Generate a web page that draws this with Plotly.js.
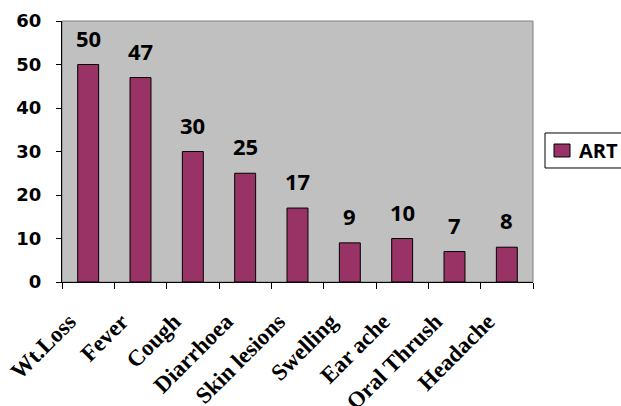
<!DOCTYPE html>
<html><head><meta charset="utf-8">
<script src="https://cdn.plot.ly/plotly-3.0.1.min.js"></script>
<style>html,body{margin:0;padding:0;background:#fff}#c{width:621px;height:406px}</style>
</head><body><div id="c"></div>
<script>
const categories = ["Wt.Loss","Fever","Cough","Diarrhoea","Skin lesions","Swelling","Ear ache","Oral Thrush","Headache"];
const artValues = [50,47,30,25,17,9,10,7,8];
const seriesName = "ART";
const yTicks = [0,10,20,30,40,50,60];
const barColor = "#993366";

const trace = {
  type: "bar", x: categories, y: artValues, name: seriesName,
  marker: {color: barColor, line: {color: "#000", width: 1}},
  showlegend: false, hoverinfo: "none"
};
const annotations = categories.map((c,i)=>({
  x: c, y: artValues[i], text: "<b>" + artValues[i] + "</b>", showarrow: false,
  yanchor: "bottom", yshift: 10,
  font: {family: "Open Sans", size: 22, color: "#000"}
}));
// legend (box, swatch, label) drawn in paper coordinates
annotations.push({xref: "paper", yref: "paper", x: 1.0934, y: 0.502, xanchor: "left", yanchor: "middle",
  text: "<b>" + seriesName + "</b>", showarrow: false,
  font: {family: "Open Sans", size: 20, color: "#000"}});
const layout = {
  width: 621, height: 406,
  margin: {l: 62, r: 88, t: 21, b: 124, autoexpand: false},
  paper_bgcolor: "#fff", plot_bgcolor: "#c0c0c0",
  bargap: 0.6,
  font: {family: "Open Sans", color: "#000"},
  xaxis: {
    type: "category", showline: true, linecolor: "#000", linewidth: 1,
    tickvals: categories, ticktext: categories.map(c => "<b>" + c + "</b>"),
    ticks: "outside", tickson: "boundaries", ticklen: 6, tickcolor: "#000",
    tickangle: -45, ticklabelshift: -19, ticklabelstandoff: 16,
    tickfont: {family: "Liberation Serif", size: 23, color: "#000"},
    showgrid: false, zeroline: false
  },
  yaxis: {
    range: [0, 60], tickvals: yTicks, ticktext: yTicks.map(v => "<b>" + v + "</b>"),
    showline: true, linecolor: "#000", linewidth: 1,
    ticks: "outside", ticklen: 5, tickcolor: "#000", showgrid: false, zeroline: false,
    ticklabelstandoff: 11,
    tickfont: {family: "DejaVu Sans", size: 18, color: "#000"}
  },
  shapes: [
    {type: "rect", xref: "paper", yref: "paper", x0: 0, x1: 1, y0: 0, y1: 1,
      line: {color: "#808080", width: 1}, layer: "below"},
    {type: "rect", xref: "paper", yref: "paper", x0: 1.0255, x1: 1.19, y0: 0.4368, y1: 0.5709,
      line: {color: "#000", width: 1}, fillcolor: "#fff"},
    {type: "rect", xref: "paper", yref: "paper", x0: 1.0446, x1: 1.0786, y0: 0.479, y1: 0.5287,
      line: {color: "#000", width: 1}, fillcolor: barColor}
  ],
  annotations: annotations,
  showlegend: false
};
Plotly.newPlot("c", [trace], layout, {staticPlot: true});
</script></body></html>
